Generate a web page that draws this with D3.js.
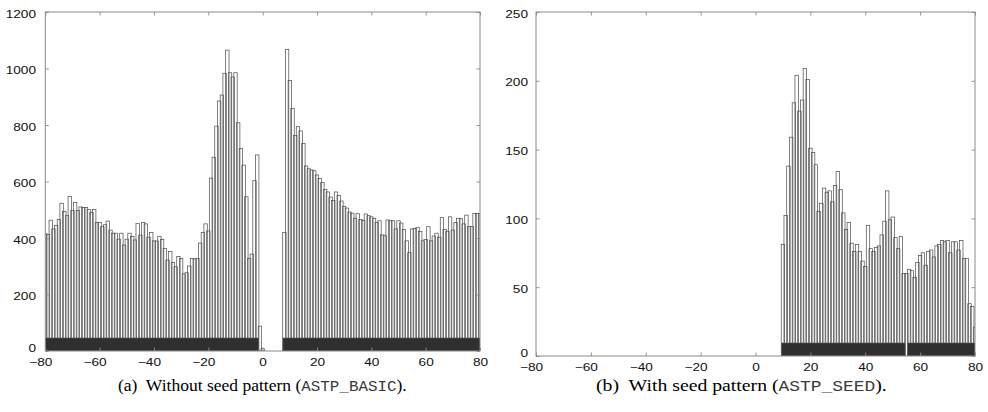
<!DOCTYPE html>
<html><head><meta charset="utf-8">
<script src="https://cdn.jsdelivr.net/npm/d3@7"></script>
<style>body{margin:0;background:#fff}svg{display:block}</style>
</head><body>
<svg id="c" width="988" height="412"></svg>
<script>
// ---------------- data ----------------
const xTicks = [-80, -60, -40, -20, 0, 20, 40, 60, 80];
const basicYTicks = [0, 200, 400, 600, 800, 1000, 1200];
const seedYTicks = [0, 50, 100, 150, 200, 250];

// (a) ASTP_BASIC : bins -80 .. 0
const basicNegStart = -80;
const basicNegCounts = [
  415, 413, 463, 432, 445, 466, 523, 494, 479, 547,
  497, 526, 497, 510, 508, 508, 501, 491, 501, 455,
  455, 440, 447, 460, 428, 417, 417, 396, 417, 375,
  396, 417, 405, 393, 452, 410, 455, 450, 403, 419,
  390, 389, 406, 395, 363, 322, 352, 313, 298, 334,
  328, 273, 277, 301, 328, 326, 328, 382, 419, 450,
  425, 612, 686, 796, 885, 906, 983, 1065, 985, 970,
  985, 808, 717, 658, 546, 328, 343, 603, 694, 88,
  8
];
// (a) ASTP_BASIC : bins 8 .. 80
const basicPosStart = 8;
const basicPosCounts = [
  420, 1068, 957, 859, 763, 794, 779, 735, 655, 645,
  641, 638, 623, 611, 597, 572, 563, 545, 533, 563,
  550, 531, 512, 506, 492, 488, 470, 486, 466, 462,
  485, 479, 475, 470, 455, 461, 411, 408, 464, 461,
  461, 432, 461, 453, 430, 390, 348, 432, 434, 438,
  423, 390, 395, 440, 390, 407, 417, 403, 472, 430,
  424, 475, 428, 455, 470, 468, 450, 481, 441, 441,
  487, 487, 487
];
// (b) ASTP_SEED : bins 10 .. 80
const seedStart = 10;
const seedCounts = [
  81, 102, 138, 159, 184, 204, 178, 186, 209, 201,
  151, 148, 139, 105, 111, 122, 119, 120, 112, 124,
  134, 121, 104, 92, 97, 82, 76, 81, 76, 69,
  65, 95, 78, 76, 79, 80, 88, 98, 120, 99,
  101, 86, 78, 87, 60, 60, 63, 62, 57, 68,
  73, 75, 66, 76, 77, 72, 80, 81, 84, 83,
  84, 75, 83, 83, 77, 84, 71, 71, 38, 36,
  21
];
// bins covered by the dark strip at the bottom (inclusive ranges)
const basicCoverage = [[-80, -2], [8, 80]];
const seedCoverage = [[10, 54], [56, 80]];

const captionA = ["(a)  Without seed pattern (", "ASTP_BASIC", ")."];
const captionB = ["(b)  With seed pattern (", "ASTP_SEED", ")."];

// ---------------- drawing ----------------
const svg = d3.select("#c");
svg.append("rect").attr("width", 988).attr("height", 412).attr("fill", "#fff");

const FRAME = "#8a8a8a";
const BAR = "#4a4a4a";
const SX = 1.3; // horizontal stretch of tick labels

function toBins(start, counts) {
  return counts.map((v, i) => ({ k: start + i, v }));
}

function panel(opts) {
  const { id, left, right, top, bottom, yMax, yTicks, bins, coverage, yLabelGap } = opts;
  const x = d3.scaleLinear().domain([-80, 80]).range([left, right]);
  const y = d3.scaleLinear().domain([0, yMax]).range([bottom, top]);
  const g = svg.append("g");

  g.append("clipPath").attr("id", id).append("rect")
    .attr("x", left).attr("y", top).attr("width", right - left).attr("height", bottom - top);

  const plot = g.append("g").attr("clip-path", `url(#${id})`);
  const bw = 1.25;
  plot.selectAll("rect.bar").data(bins).join("rect")
    .attr("class", "bar")
    .attr("x", d => x(d.k - bw / 2))
    .attr("width", d => x(d.k + bw / 2) - x(d.k - bw / 2))
    .attr("y", d => y(d.v))
    .attr("height", d => y(0) - y(d.v))
    .attr("fill", "none")
    .attr("stroke", BAR)
    .attr("stroke-width", 0.7);

  plot.selectAll("rect.cov").data(coverage).join("rect")
    .attr("class", "cov")
    .attr("x", d => x(d[0] - 0.5))
    .attr("width", d => x(d[1] + 0.5) - x(d[0] - 0.5))
    .attr("y", bottom - 13)
    .attr("height", 13)
    .attr("fill", "#2f2f2f")
    .attr("stroke", "#555")
    .attr("stroke-width", 0.6);

  const tk = 3.5;
  const axB = g.append("g").attr("transform", `translate(0,${bottom})`)
    .call(d3.axisBottom(x).tickValues(xTicks).tickSize(-tk).tickSizeOuter(0).tickPadding(0));
  const axT = g.append("g").attr("transform", `translate(0,${top})`)
    .call(d3.axisTop(x).tickValues(xTicks).tickSize(-tk).tickSizeOuter(0).tickFormat(""));
  const axL = g.append("g").attr("transform", `translate(${left},0)`)
    .call(d3.axisLeft(y).tickValues(yTicks).tickSize(-tk).tickSizeOuter(0).tickFormat(d3.format("d")));
  const axR = g.append("g").attr("transform", `translate(${right},0)`)
    .call(d3.axisRight(y).tickValues(yTicks).tickSize(-tk).tickSizeOuter(0).tickFormat(""));

  [axB, axT, axL, axR].forEach(a => {
    a.select(".domain").remove();
    a.selectAll(".tick line").attr("stroke", FRAME).attr("stroke-width", 0.9);
  });

  const fontAttrs = sel => sel
    .attr("font-family", "'Liberation Sans', Arial, sans-serif")
    .attr("font-size", 10.5)
    .attr("fill", "#111");

  axB.selectAll(".tick text").call(fontAttrs)
    .text(d => d < 0 ? "\u2212" + Math.abs(d) : String(d))
    .attr("y", 0).attr("dy", 0)
    .attr("transform", d => `translate(${d < 0 ? -5 : 0},${15}) scale(${SX},1)`);

  axL.selectAll(".tick text").call(fontAttrs)
    .attr("x", 0).attr("dy", 0)
    .attr("text-anchor", "end")
    .attr("transform", d => `translate(${-yLabelGap},${d === 0 ? 0.5 : 5}) scale(${SX},1)`);

  g.append("rect")
    .attr("x", left).attr("y", top).attr("width", right - left).attr("height", bottom - top)
    .attr("fill", "none").attr("stroke", FRAME).attr("stroke-width", 1);
}

panel({
  id: "clipA", left: 45.3, right: 480, top: 12, bottom: 351, yMax: 1200,
  yTicks: basicYTicks, yLabelGap: 9.3,
  bins: toBins(basicNegStart, basicNegCounts).concat(toBins(basicPosStart, basicPosCounts)),
  coverage: basicCoverage
});
panel({
  id: "clipB", left: 536, right: 975, top: 12, bottom: 356, yMax: 250,
  yTicks: seedYTicks, yLabelGap: 8,
  bins: toBins(seedStart, seedCounts),
  coverage: seedCoverage
});

function caption(parts, cx, y, targetW) {
  const t = svg.append("text").attr("x", 0).attr("y", 0)
    .style("font-family", "'Liberation Serif', 'Times New Roman', serif")
    .style("font-size", "16px").attr("fill", "#000")
    .style("white-space", "pre");
  t.append("tspan").text(parts[0]);
  t.append("tspan").style("font-family", "'Liberation Mono', 'Courier New', monospace")
    .style("font-size", "14.5px").attr("fill", "#3a3a3a").text(parts[1]);
  t.append("tspan").text(parts[2]);
  const w = t.node().getComputedTextLength();
  const s = targetW / w;
  t.attr("transform", `translate(${cx - targetW / 2},${y}) scale(${s},1)`);
}
caption(captionA, 262.5, 391, 289);
caption(captionB, 741.5, 391, 291);
</script>
</body></html>
